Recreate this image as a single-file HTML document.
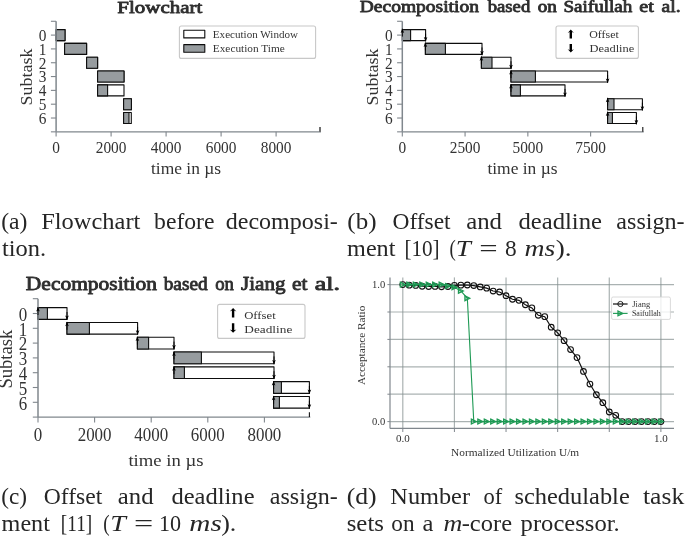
<!DOCTYPE html>
<html><head><meta charset="utf-8"><style>
html,body{margin:0;padding:0;background:#fff;width:685px;height:537px;overflow:hidden}
svg{display:block;font-family:"Liberation Serif",serif;will-change:transform}
</style></head><body>
<svg width="685" height="537" viewBox="0 0 685 537">
<rect x="56.20" y="29.60" width="8.80" height="11.00" fill="#fff" stroke="#0d0d0d" stroke-width="1.1" stroke-linejoin="round"/>
<rect x="56.20" y="29.60" width="8.80" height="11.00" fill="#979c9f" stroke="#0d0d0d" stroke-width="1.1" stroke-linejoin="round"/>
<rect x="64.60" y="43.42" width="22.00" height="11.00" fill="#fff" stroke="#0d0d0d" stroke-width="1.1" stroke-linejoin="round"/>
<rect x="64.60" y="43.42" width="22.00" height="11.00" fill="#979c9f" stroke="#0d0d0d" stroke-width="1.1" stroke-linejoin="round"/>
<rect x="86.60" y="57.24" width="11.00" height="11.00" fill="#fff" stroke="#0d0d0d" stroke-width="1.1" stroke-linejoin="round"/>
<rect x="86.60" y="57.24" width="11.00" height="11.00" fill="#979c9f" stroke="#0d0d0d" stroke-width="1.1" stroke-linejoin="round"/>
<rect x="97.60" y="71.06" width="26.40" height="11.00" fill="#fff" stroke="#0d0d0d" stroke-width="1.1" stroke-linejoin="round"/>
<rect x="97.60" y="71.06" width="26.40" height="11.00" fill="#979c9f" stroke="#0d0d0d" stroke-width="1.1" stroke-linejoin="round"/>
<rect x="97.60" y="84.88" width="26.40" height="11.00" fill="#fff" stroke="#0d0d0d" stroke-width="1.1" stroke-linejoin="round"/>
<rect x="97.60" y="84.88" width="10.00" height="11.00" fill="#979c9f" stroke="#0d0d0d" stroke-width="1.1" stroke-linejoin="round"/>
<rect x="123.60" y="98.70" width="7.80" height="11.00" fill="#fff" stroke="#0d0d0d" stroke-width="1.1" stroke-linejoin="round"/>
<rect x="123.60" y="98.70" width="7.80" height="11.00" fill="#979c9f" stroke="#0d0d0d" stroke-width="1.1" stroke-linejoin="round"/>
<rect x="123.60" y="112.52" width="7.70" height="11.00" fill="#fff" stroke="#0d0d0d" stroke-width="1.1" stroke-linejoin="round"/>
<rect x="123.60" y="112.52" width="5.40" height="11.00" fill="#979c9f" stroke="#0d0d0d" stroke-width="1.1" stroke-linejoin="round"/>
<line x1="56.10" y1="21.28" x2="56.10" y2="131.84" stroke="#80878d" stroke-width="1.5"/>
<line x1="50.90" y1="21.28" x2="56.10" y2="21.28" stroke="#80878d" stroke-width="1.1"/>
<line x1="50.90" y1="35.10" x2="56.10" y2="35.10" stroke="#80878d" stroke-width="1.1"/>
<line x1="50.90" y1="48.92" x2="56.10" y2="48.92" stroke="#80878d" stroke-width="1.1"/>
<line x1="50.90" y1="62.74" x2="56.10" y2="62.74" stroke="#80878d" stroke-width="1.1"/>
<line x1="50.90" y1="76.56" x2="56.10" y2="76.56" stroke="#80878d" stroke-width="1.1"/>
<line x1="50.90" y1="90.38" x2="56.10" y2="90.38" stroke="#80878d" stroke-width="1.1"/>
<line x1="50.90" y1="104.20" x2="56.10" y2="104.20" stroke="#80878d" stroke-width="1.1"/>
<line x1="50.90" y1="118.02" x2="56.10" y2="118.02" stroke="#80878d" stroke-width="1.1"/>
<line x1="50.90" y1="131.84" x2="56.10" y2="131.84" stroke="#80878d" stroke-width="1.1"/>
<line x1="56.10" y1="131.84" x2="320.90" y2="131.84" stroke="#80878d" stroke-width="1.3"/>
<line x1="320.00" y1="127.04" x2="320.00" y2="131.64" stroke="#555" stroke-width="1.7"/>
<line x1="56.10" y1="131.84" x2="56.10" y2="136.44" stroke="#80878d" stroke-width="1.1"/>
<line x1="111.10" y1="131.84" x2="111.10" y2="136.44" stroke="#80878d" stroke-width="1.1"/>
<line x1="166.10" y1="131.84" x2="166.10" y2="136.44" stroke="#80878d" stroke-width="1.1"/>
<line x1="221.10" y1="131.84" x2="221.10" y2="136.44" stroke="#80878d" stroke-width="1.1"/>
<line x1="276.10" y1="131.84" x2="276.10" y2="136.44" stroke="#80878d" stroke-width="1.1"/>
<rect x="179.40" y="26.00" width="136.20" height="32.40" fill="#fff" stroke="#c8c8c8" stroke-width="1.1" rx="2"/>
<rect x="183.80" y="30.20" width="21.00" height="7.70" fill="#fff" stroke="#0d0d0d" stroke-width="1.1" stroke-linejoin="round"/>
<rect x="183.80" y="44.60" width="21.00" height="7.70" fill="#979c9f" stroke="#0d0d0d" stroke-width="1.1" stroke-linejoin="round"/>
<rect x="402.40" y="29.60" width="23.20" height="11.00" fill="#fff" stroke="#0d0d0d" stroke-width="1.1" stroke-linejoin="round"/>
<rect x="402.40" y="29.60" width="8.20" height="11.00" fill="#979c9f" stroke="#0d0d0d" stroke-width="1.1" stroke-linejoin="round"/>
<rect x="425.40" y="43.42" width="56.60" height="11.00" fill="#fff" stroke="#0d0d0d" stroke-width="1.1" stroke-linejoin="round"/>
<rect x="425.40" y="43.42" width="20.00" height="11.00" fill="#979c9f" stroke="#0d0d0d" stroke-width="1.1" stroke-linejoin="round"/>
<rect x="481.40" y="57.24" width="29.60" height="11.00" fill="#fff" stroke="#0d0d0d" stroke-width="1.1" stroke-linejoin="round"/>
<rect x="481.40" y="57.24" width="10.60" height="11.00" fill="#979c9f" stroke="#0d0d0d" stroke-width="1.1" stroke-linejoin="round"/>
<rect x="511.00" y="71.06" width="96.60" height="11.00" fill="#fff" stroke="#0d0d0d" stroke-width="1.1" stroke-linejoin="round"/>
<rect x="511.00" y="71.06" width="24.40" height="11.00" fill="#979c9f" stroke="#0d0d0d" stroke-width="1.1" stroke-linejoin="round"/>
<rect x="511.00" y="84.88" width="54.00" height="11.00" fill="#fff" stroke="#0d0d0d" stroke-width="1.1" stroke-linejoin="round"/>
<rect x="511.00" y="84.88" width="9.40" height="11.00" fill="#979c9f" stroke="#0d0d0d" stroke-width="1.1" stroke-linejoin="round"/>
<rect x="607.60" y="98.70" width="34.80" height="11.00" fill="#fff" stroke="#0d0d0d" stroke-width="1.1" stroke-linejoin="round"/>
<rect x="607.60" y="98.70" width="6.40" height="11.00" fill="#979c9f" stroke="#0d0d0d" stroke-width="1.1" stroke-linejoin="round"/>
<rect x="607.60" y="112.52" width="28.80" height="11.00" fill="#fff" stroke="#0d0d0d" stroke-width="1.1" stroke-linejoin="round"/>
<rect x="607.60" y="112.52" width="4.80" height="11.00" fill="#979c9f" stroke="#0d0d0d" stroke-width="1.1" stroke-linejoin="round"/>
<line x1="402.30" y1="21.28" x2="402.30" y2="131.84" stroke="#80878d" stroke-width="1.5"/>
<line x1="397.10" y1="21.28" x2="402.30" y2="21.28" stroke="#80878d" stroke-width="1.1"/>
<line x1="397.10" y1="35.10" x2="402.30" y2="35.10" stroke="#80878d" stroke-width="1.1"/>
<line x1="397.10" y1="48.92" x2="402.30" y2="48.92" stroke="#80878d" stroke-width="1.1"/>
<line x1="397.10" y1="62.74" x2="402.30" y2="62.74" stroke="#80878d" stroke-width="1.1"/>
<line x1="397.10" y1="76.56" x2="402.30" y2="76.56" stroke="#80878d" stroke-width="1.1"/>
<line x1="397.10" y1="90.38" x2="402.30" y2="90.38" stroke="#80878d" stroke-width="1.1"/>
<line x1="397.10" y1="104.20" x2="402.30" y2="104.20" stroke="#80878d" stroke-width="1.1"/>
<line x1="397.10" y1="118.02" x2="402.30" y2="118.02" stroke="#80878d" stroke-width="1.1"/>
<line x1="397.10" y1="131.84" x2="402.30" y2="131.84" stroke="#80878d" stroke-width="1.1"/>
<line x1="402.30" y1="131.84" x2="643.70" y2="131.84" stroke="#80878d" stroke-width="1.3"/>
<line x1="642.80" y1="127.04" x2="642.80" y2="131.64" stroke="#111" stroke-width="1.1"/>
<line x1="402.30" y1="131.84" x2="402.30" y2="136.44" stroke="#80878d" stroke-width="1.1"/>
<line x1="465.07" y1="131.84" x2="465.07" y2="136.44" stroke="#80878d" stroke-width="1.1"/>
<line x1="527.85" y1="131.84" x2="527.85" y2="136.44" stroke="#80878d" stroke-width="1.1"/>
<line x1="590.62" y1="131.84" x2="590.62" y2="136.44" stroke="#80878d" stroke-width="1.1"/>
<path d="M402.40,36.60L402.40,28.70" stroke="#000" stroke-width="0.9" fill="none"/>
<path d="M402.40,28.70L404.20,33.10L402.40,32.10L400.60,33.10Z" fill="#000"/>
<path d="M425.60,33.60L425.60,41.50" stroke="#000" stroke-width="0.9" fill="none"/>
<path d="M425.60,41.50L427.40,37.10L425.60,38.10L423.80,37.10Z" fill="#000"/>
<path d="M425.40,50.42L425.40,42.52" stroke="#000" stroke-width="0.9" fill="none"/>
<path d="M425.40,42.52L427.20,46.92L425.40,45.92L423.60,46.92Z" fill="#000"/>
<path d="M482.00,47.42L482.00,55.32" stroke="#000" stroke-width="0.9" fill="none"/>
<path d="M482.00,55.32L483.80,50.92L482.00,51.92L480.20,50.92Z" fill="#000"/>
<path d="M481.40,64.24L481.40,56.34" stroke="#000" stroke-width="0.9" fill="none"/>
<path d="M481.40,56.34L483.20,60.74L481.40,59.74L479.60,60.74Z" fill="#000"/>
<path d="M511.00,61.24L511.00,69.14" stroke="#000" stroke-width="0.9" fill="none"/>
<path d="M511.00,69.14L512.80,64.74L511.00,65.74L509.20,64.74Z" fill="#000"/>
<path d="M511.00,78.06L511.00,70.16" stroke="#000" stroke-width="0.9" fill="none"/>
<path d="M511.00,70.16L512.80,74.56L511.00,73.56L509.20,74.56Z" fill="#000"/>
<path d="M607.60,75.06L607.60,82.96" stroke="#000" stroke-width="0.9" fill="none"/>
<path d="M607.60,82.96L609.40,78.56L607.60,79.56L605.80,78.56Z" fill="#000"/>
<path d="M511.00,91.88L511.00,83.98" stroke="#000" stroke-width="0.9" fill="none"/>
<path d="M511.00,83.98L512.80,88.38L511.00,87.38L509.20,88.38Z" fill="#000"/>
<path d="M565.00,88.88L565.00,96.78" stroke="#000" stroke-width="0.9" fill="none"/>
<path d="M565.00,96.78L566.80,92.38L565.00,93.38L563.20,92.38Z" fill="#000"/>
<path d="M607.60,105.70L607.60,97.80" stroke="#000" stroke-width="0.9" fill="none"/>
<path d="M607.60,97.80L609.40,102.20L607.60,101.20L605.80,102.20Z" fill="#000"/>
<path d="M642.40,102.70L642.40,110.60" stroke="#000" stroke-width="0.9" fill="none"/>
<path d="M642.40,110.60L644.20,106.20L642.40,107.20L640.60,106.20Z" fill="#000"/>
<path d="M607.60,119.52L607.60,111.62" stroke="#000" stroke-width="0.9" fill="none"/>
<path d="M607.60,111.62L609.40,116.02L607.60,115.02L605.80,116.02Z" fill="#000"/>
<path d="M636.40,116.52L636.40,124.42" stroke="#000" stroke-width="0.9" fill="none"/>
<path d="M636.40,124.42L638.20,120.02L636.40,121.02L634.60,120.02Z" fill="#000"/>
<rect x="556.00" y="26.00" width="82.40" height="32.40" fill="#fff" stroke="#c8c8c8" stroke-width="1.1" rx="2"/>
<path d="M570.80,29.60L573.90,33.00L572.00,32.10L572.00,38.40L569.60,38.40L569.60,32.10L567.70,33.00Z" fill="#000"/>
<path d="M570.80,52.60L573.90,49.20L572.00,50.10L572.00,44.10L569.60,44.10L569.60,50.10L567.70,49.20Z" fill="#000"/>
<rect x="38.00" y="307.65" width="29.00" height="11.70" fill="#fff" stroke="#0d0d0d" stroke-width="1.1" stroke-linejoin="round"/>
<rect x="38.00" y="307.65" width="9.40" height="11.70" fill="#979c9f" stroke="#0d0d0d" stroke-width="1.1" stroke-linejoin="round"/>
<rect x="67.00" y="322.45" width="70.60" height="11.70" fill="#fff" stroke="#0d0d0d" stroke-width="1.1" stroke-linejoin="round"/>
<rect x="67.00" y="322.45" width="22.40" height="11.70" fill="#979c9f" stroke="#0d0d0d" stroke-width="1.1" stroke-linejoin="round"/>
<rect x="137.40" y="337.25" width="36.60" height="11.70" fill="#fff" stroke="#0d0d0d" stroke-width="1.1" stroke-linejoin="round"/>
<rect x="137.40" y="337.25" width="11.20" height="11.70" fill="#979c9f" stroke="#0d0d0d" stroke-width="1.1" stroke-linejoin="round"/>
<rect x="174.00" y="352.05" width="100.00" height="11.70" fill="#fff" stroke="#0d0d0d" stroke-width="1.1" stroke-linejoin="round"/>
<rect x="174.00" y="352.05" width="27.40" height="11.70" fill="#979c9f" stroke="#0d0d0d" stroke-width="1.1" stroke-linejoin="round"/>
<rect x="174.00" y="366.85" width="100.00" height="11.70" fill="#fff" stroke="#0d0d0d" stroke-width="1.1" stroke-linejoin="round"/>
<rect x="174.00" y="366.85" width="10.40" height="11.70" fill="#979c9f" stroke="#0d0d0d" stroke-width="1.1" stroke-linejoin="round"/>
<rect x="273.60" y="381.65" width="35.80" height="11.70" fill="#fff" stroke="#0d0d0d" stroke-width="1.1" stroke-linejoin="round"/>
<rect x="273.60" y="381.65" width="7.80" height="11.70" fill="#979c9f" stroke="#0d0d0d" stroke-width="1.1" stroke-linejoin="round"/>
<rect x="273.60" y="396.45" width="35.80" height="11.70" fill="#fff" stroke="#0d0d0d" stroke-width="1.1" stroke-linejoin="round"/>
<rect x="273.60" y="396.45" width="5.80" height="11.70" fill="#979c9f" stroke="#0d0d0d" stroke-width="1.1" stroke-linejoin="round"/>
<line x1="38.00" y1="298.70" x2="38.00" y2="417.10" stroke="#80878d" stroke-width="1.5"/>
<line x1="32.80" y1="298.70" x2="38.00" y2="298.70" stroke="#80878d" stroke-width="1.1"/>
<line x1="32.80" y1="313.50" x2="38.00" y2="313.50" stroke="#80878d" stroke-width="1.1"/>
<line x1="32.80" y1="328.30" x2="38.00" y2="328.30" stroke="#80878d" stroke-width="1.1"/>
<line x1="32.80" y1="343.10" x2="38.00" y2="343.10" stroke="#80878d" stroke-width="1.1"/>
<line x1="32.80" y1="357.90" x2="38.00" y2="357.90" stroke="#80878d" stroke-width="1.1"/>
<line x1="32.80" y1="372.70" x2="38.00" y2="372.70" stroke="#80878d" stroke-width="1.1"/>
<line x1="32.80" y1="387.50" x2="38.00" y2="387.50" stroke="#80878d" stroke-width="1.1"/>
<line x1="32.80" y1="402.30" x2="38.00" y2="402.30" stroke="#80878d" stroke-width="1.1"/>
<line x1="32.80" y1="417.10" x2="38.00" y2="417.10" stroke="#80878d" stroke-width="1.1"/>
<line x1="38.00" y1="417.10" x2="310.30" y2="417.10" stroke="#80878d" stroke-width="1.3"/>
<line x1="309.40" y1="412.30" x2="309.40" y2="416.90" stroke="#111" stroke-width="1.1"/>
<line x1="38.00" y1="417.10" x2="38.00" y2="422.50" stroke="#80878d" stroke-width="1.1"/>
<line x1="94.60" y1="417.10" x2="94.60" y2="422.50" stroke="#80878d" stroke-width="1.1"/>
<line x1="151.20" y1="417.10" x2="151.20" y2="422.50" stroke="#80878d" stroke-width="1.1"/>
<line x1="207.80" y1="417.10" x2="207.80" y2="422.50" stroke="#80878d" stroke-width="1.1"/>
<line x1="264.40" y1="417.10" x2="264.40" y2="422.50" stroke="#80878d" stroke-width="1.1"/>
<path d="M38.00,315.00L38.00,307.10" stroke="#000" stroke-width="0.9" fill="none"/>
<path d="M38.00,307.10L39.80,311.50L38.00,310.50L36.20,311.50Z" fill="#000"/>
<path d="M67.00,312.00L67.00,319.90" stroke="#000" stroke-width="0.9" fill="none"/>
<path d="M67.00,319.90L68.80,315.50L67.00,316.50L65.20,315.50Z" fill="#000"/>
<path d="M67.00,329.80L67.00,321.90" stroke="#000" stroke-width="0.9" fill="none"/>
<path d="M67.00,321.90L68.80,326.30L67.00,325.30L65.20,326.30Z" fill="#000"/>
<path d="M137.60,326.80L137.60,334.70" stroke="#000" stroke-width="0.9" fill="none"/>
<path d="M137.60,334.70L139.40,330.30L137.60,331.30L135.80,330.30Z" fill="#000"/>
<path d="M137.40,344.60L137.40,336.70" stroke="#000" stroke-width="0.9" fill="none"/>
<path d="M137.40,336.70L139.20,341.10L137.40,340.10L135.60,341.10Z" fill="#000"/>
<path d="M174.00,341.60L174.00,349.50" stroke="#000" stroke-width="0.9" fill="none"/>
<path d="M174.00,349.50L175.80,345.10L174.00,346.10L172.20,345.10Z" fill="#000"/>
<path d="M174.00,359.40L174.00,351.50" stroke="#000" stroke-width="0.9" fill="none"/>
<path d="M174.00,351.50L175.80,355.90L174.00,354.90L172.20,355.90Z" fill="#000"/>
<path d="M274.00,356.40L274.00,364.30" stroke="#000" stroke-width="0.9" fill="none"/>
<path d="M274.00,364.30L275.80,359.90L274.00,360.90L272.20,359.90Z" fill="#000"/>
<path d="M174.00,374.20L174.00,366.30" stroke="#000" stroke-width="0.9" fill="none"/>
<path d="M174.00,366.30L175.80,370.70L174.00,369.70L172.20,370.70Z" fill="#000"/>
<path d="M274.00,371.20L274.00,379.10" stroke="#000" stroke-width="0.9" fill="none"/>
<path d="M274.00,379.10L275.80,374.70L274.00,375.70L272.20,374.70Z" fill="#000"/>
<path d="M273.60,389.00L273.60,381.10" stroke="#000" stroke-width="0.9" fill="none"/>
<path d="M273.60,381.10L275.40,385.50L273.60,384.50L271.80,385.50Z" fill="#000"/>
<path d="M309.40,386.00L309.40,393.90" stroke="#000" stroke-width="0.9" fill="none"/>
<path d="M309.40,393.90L311.20,389.50L309.40,390.50L307.60,389.50Z" fill="#000"/>
<path d="M273.60,403.80L273.60,395.90" stroke="#000" stroke-width="0.9" fill="none"/>
<path d="M273.60,395.90L275.40,400.30L273.60,399.30L271.80,400.30Z" fill="#000"/>
<path d="M309.40,400.80L309.40,408.70" stroke="#000" stroke-width="0.9" fill="none"/>
<path d="M309.40,408.70L311.20,404.30L309.40,405.30L307.60,404.30Z" fill="#000"/>
<rect x="217.60" y="304.40" width="87.40" height="34.00" fill="#fff" stroke="#c8c8c8" stroke-width="1.1" rx="2"/>
<path d="M233.10,308.00L236.40,311.40L234.30,310.50L234.30,317.40L231.90,317.40L231.90,310.50L229.80,311.40Z" fill="#000"/>
<path d="M233.10,332.80L236.40,329.40L234.30,330.30L234.30,323.30L231.90,323.30L231.90,330.30L229.80,329.40Z" fill="#000"/>
<line x1="402.80" y1="277.40" x2="402.80" y2="428.40" stroke="rgba(130,141,141,0.68)" stroke-width="1.2"/>
<line x1="402.80" y1="428.40" x2="402.80" y2="432.00" stroke="#80878d" stroke-width="1.0"/>
<line x1="454.42" y1="277.40" x2="454.42" y2="428.40" stroke="rgba(130,141,141,0.68)" stroke-width="1.2"/>
<line x1="454.42" y1="428.40" x2="454.42" y2="432.00" stroke="#80878d" stroke-width="1.0"/>
<line x1="506.04" y1="277.40" x2="506.04" y2="428.40" stroke="rgba(130,141,141,0.68)" stroke-width="1.2"/>
<line x1="506.04" y1="428.40" x2="506.04" y2="432.00" stroke="#80878d" stroke-width="1.0"/>
<line x1="557.66" y1="277.40" x2="557.66" y2="428.40" stroke="rgba(130,141,141,0.68)" stroke-width="1.2"/>
<line x1="557.66" y1="428.40" x2="557.66" y2="432.00" stroke="#80878d" stroke-width="1.0"/>
<line x1="609.28" y1="277.40" x2="609.28" y2="428.40" stroke="rgba(130,141,141,0.68)" stroke-width="1.2"/>
<line x1="609.28" y1="428.40" x2="609.28" y2="432.00" stroke="#80878d" stroke-width="1.0"/>
<line x1="660.90" y1="277.40" x2="660.90" y2="428.40" stroke="rgba(130,141,141,0.68)" stroke-width="1.2"/>
<line x1="660.90" y1="428.40" x2="660.90" y2="432.00" stroke="#80878d" stroke-width="1.0"/>
<line x1="390.00" y1="421.60" x2="674.00" y2="421.60" stroke="rgba(130,141,141,0.68)" stroke-width="1.2"/>
<line x1="387.40" y1="421.60" x2="390.00" y2="421.60" stroke="#80878d" stroke-width="1.0"/>
<line x1="390.00" y1="394.20" x2="674.00" y2="394.20" stroke="rgba(130,141,141,0.68)" stroke-width="1.2"/>
<line x1="387.40" y1="394.20" x2="390.00" y2="394.20" stroke="#80878d" stroke-width="1.0"/>
<line x1="390.00" y1="366.80" x2="674.00" y2="366.80" stroke="rgba(130,141,141,0.68)" stroke-width="1.2"/>
<line x1="387.40" y1="366.80" x2="390.00" y2="366.80" stroke="#80878d" stroke-width="1.0"/>
<line x1="390.00" y1="339.40" x2="674.00" y2="339.40" stroke="rgba(130,141,141,0.68)" stroke-width="1.2"/>
<line x1="387.40" y1="339.40" x2="390.00" y2="339.40" stroke="#80878d" stroke-width="1.0"/>
<line x1="390.00" y1="312.00" x2="674.00" y2="312.00" stroke="rgba(130,141,141,0.68)" stroke-width="1.2"/>
<line x1="387.40" y1="312.00" x2="390.00" y2="312.00" stroke="#80878d" stroke-width="1.0"/>
<line x1="390.00" y1="284.60" x2="674.00" y2="284.60" stroke="rgba(130,141,141,0.68)" stroke-width="1.2"/>
<line x1="387.40" y1="284.60" x2="390.00" y2="284.60" stroke="#80878d" stroke-width="1.0"/>
<line x1="390.00" y1="277.40" x2="390.00" y2="428.40" stroke="#80878d" stroke-width="1.2"/>
<line x1="390.00" y1="428.40" x2="674.00" y2="428.40" stroke="#80878d" stroke-width="1.2"/>
<polyline points="402.80,284.60 409.25,285.15 415.71,285.42 422.16,286.24 428.61,286.52 435.06,286.38 441.52,286.79 447.97,286.52 454.42,285.42 460.87,285.15 467.33,285.01 473.78,285.56 480.23,286.93 486.68,288.16 493.14,291.04 499.59,292.00 506.04,295.70 512.49,299.26 518.95,300.36 525.40,304.74 531.85,307.89 538.30,315.29 544.75,316.66 551.21,327.21 557.66,332.82 564.11,340.63 570.57,349.54 577.02,357.62 583.47,371.46 589.92,384.06 596.38,394.75 602.83,402.69 609.28,412.01 615.73,415.30 622.19,421.60 628.64,421.60 635.09,421.60 641.54,421.60 648.00,421.60 654.45,421.60 660.90,421.60" fill="none" stroke="#111" stroke-width="1.2"/>
<circle cx="402.80" cy="284.60" r="2.85" fill="none" stroke="#111" stroke-width="1.1"/>
<circle cx="409.25" cy="285.15" r="2.85" fill="none" stroke="#111" stroke-width="1.1"/>
<circle cx="415.71" cy="285.42" r="2.85" fill="none" stroke="#111" stroke-width="1.1"/>
<circle cx="422.16" cy="286.24" r="2.85" fill="none" stroke="#111" stroke-width="1.1"/>
<circle cx="428.61" cy="286.52" r="2.85" fill="none" stroke="#111" stroke-width="1.1"/>
<circle cx="435.06" cy="286.38" r="2.85" fill="none" stroke="#111" stroke-width="1.1"/>
<circle cx="441.52" cy="286.79" r="2.85" fill="none" stroke="#111" stroke-width="1.1"/>
<circle cx="447.97" cy="286.52" r="2.85" fill="none" stroke="#111" stroke-width="1.1"/>
<circle cx="454.42" cy="285.42" r="2.85" fill="none" stroke="#111" stroke-width="1.1"/>
<circle cx="460.87" cy="285.15" r="2.85" fill="none" stroke="#111" stroke-width="1.1"/>
<circle cx="467.33" cy="285.01" r="2.85" fill="none" stroke="#111" stroke-width="1.1"/>
<circle cx="473.78" cy="285.56" r="2.85" fill="none" stroke="#111" stroke-width="1.1"/>
<circle cx="480.23" cy="286.93" r="2.85" fill="none" stroke="#111" stroke-width="1.1"/>
<circle cx="486.68" cy="288.16" r="2.85" fill="none" stroke="#111" stroke-width="1.1"/>
<circle cx="493.14" cy="291.04" r="2.85" fill="none" stroke="#111" stroke-width="1.1"/>
<circle cx="499.59" cy="292.00" r="2.85" fill="none" stroke="#111" stroke-width="1.1"/>
<circle cx="506.04" cy="295.70" r="2.85" fill="none" stroke="#111" stroke-width="1.1"/>
<circle cx="512.49" cy="299.26" r="2.85" fill="none" stroke="#111" stroke-width="1.1"/>
<circle cx="518.95" cy="300.36" r="2.85" fill="none" stroke="#111" stroke-width="1.1"/>
<circle cx="525.40" cy="304.74" r="2.85" fill="none" stroke="#111" stroke-width="1.1"/>
<circle cx="531.85" cy="307.89" r="2.85" fill="none" stroke="#111" stroke-width="1.1"/>
<circle cx="538.30" cy="315.29" r="2.85" fill="none" stroke="#111" stroke-width="1.1"/>
<circle cx="544.75" cy="316.66" r="2.85" fill="none" stroke="#111" stroke-width="1.1"/>
<circle cx="551.21" cy="327.21" r="2.85" fill="none" stroke="#111" stroke-width="1.1"/>
<circle cx="557.66" cy="332.82" r="2.85" fill="none" stroke="#111" stroke-width="1.1"/>
<circle cx="564.11" cy="340.63" r="2.85" fill="none" stroke="#111" stroke-width="1.1"/>
<circle cx="570.57" cy="349.54" r="2.85" fill="none" stroke="#111" stroke-width="1.1"/>
<circle cx="577.02" cy="357.62" r="2.85" fill="none" stroke="#111" stroke-width="1.1"/>
<circle cx="583.47" cy="371.46" r="2.85" fill="none" stroke="#111" stroke-width="1.1"/>
<circle cx="589.92" cy="384.06" r="2.85" fill="none" stroke="#111" stroke-width="1.1"/>
<circle cx="596.38" cy="394.75" r="2.85" fill="none" stroke="#111" stroke-width="1.1"/>
<circle cx="602.83" cy="402.69" r="2.85" fill="none" stroke="#111" stroke-width="1.1"/>
<circle cx="609.28" cy="412.01" r="2.85" fill="none" stroke="#111" stroke-width="1.1"/>
<circle cx="615.73" cy="415.30" r="2.85" fill="none" stroke="#111" stroke-width="1.1"/>
<circle cx="622.19" cy="421.60" r="2.85" fill="none" stroke="#111" stroke-width="1.1"/>
<circle cx="628.64" cy="421.60" r="2.85" fill="none" stroke="#111" stroke-width="1.1"/>
<circle cx="635.09" cy="421.60" r="2.85" fill="none" stroke="#111" stroke-width="1.1"/>
<circle cx="641.54" cy="421.60" r="2.85" fill="none" stroke="#111" stroke-width="1.1"/>
<circle cx="648.00" cy="421.60" r="2.85" fill="none" stroke="#111" stroke-width="1.1"/>
<circle cx="654.45" cy="421.60" r="2.85" fill="none" stroke="#111" stroke-width="1.1"/>
<circle cx="660.90" cy="421.60" r="2.85" fill="none" stroke="#111" stroke-width="1.1"/>
<polyline points="402.80,284.60 409.25,284.60 415.71,284.60 422.16,284.60 428.61,284.60 435.06,284.60 441.52,284.60 447.97,285.97 454.42,287.34 460.87,290.90 467.33,298.30 473.78,421.60 480.23,421.60 486.68,421.60 493.14,421.60 499.59,421.60 506.04,421.60 512.49,421.60 518.95,421.60 525.40,421.60 531.85,421.60 538.30,421.60 544.75,421.60 551.21,421.60 557.66,421.60 564.11,421.60 570.57,421.60 577.02,421.60 583.47,421.60 589.92,421.60 596.38,421.60 602.83,421.60 609.28,421.60 615.73,421.60 622.19,421.60 628.64,421.60 635.09,421.60 641.54,421.60 648.00,421.60 654.45,421.60 660.90,421.60" fill="none" stroke="#1f9a55" stroke-width="1.1"/>
<path d="M400.40,282.20L405.20,284.60L400.40,287.00Z" fill="#1f9a55" fill-opacity="0.3" stroke="#1f9a55" stroke-width="1.3"/>
<path d="M406.85,282.20L411.65,284.60L406.85,287.00Z" fill="#1f9a55" fill-opacity="0.3" stroke="#1f9a55" stroke-width="1.3"/>
<path d="M413.31,282.20L418.11,284.60L413.31,287.00Z" fill="#1f9a55" fill-opacity="0.3" stroke="#1f9a55" stroke-width="1.3"/>
<path d="M419.76,282.20L424.56,284.60L419.76,287.00Z" fill="#1f9a55" fill-opacity="0.3" stroke="#1f9a55" stroke-width="1.3"/>
<path d="M426.21,282.20L431.01,284.60L426.21,287.00Z" fill="#1f9a55" fill-opacity="0.3" stroke="#1f9a55" stroke-width="1.3"/>
<path d="M432.66,282.20L437.46,284.60L432.66,287.00Z" fill="#1f9a55" fill-opacity="0.3" stroke="#1f9a55" stroke-width="1.3"/>
<path d="M439.12,282.20L443.92,284.60L439.12,287.00Z" fill="#1f9a55" fill-opacity="0.3" stroke="#1f9a55" stroke-width="1.3"/>
<path d="M445.57,283.57L450.37,285.97L445.57,288.37Z" fill="#1f9a55" fill-opacity="0.3" stroke="#1f9a55" stroke-width="1.3"/>
<path d="M452.02,284.94L456.82,287.34L452.02,289.74Z" fill="#1f9a55" fill-opacity="0.3" stroke="#1f9a55" stroke-width="1.3"/>
<path d="M458.47,288.50L463.27,290.90L458.47,293.30Z" fill="#1f9a55" fill-opacity="0.3" stroke="#1f9a55" stroke-width="1.3"/>
<path d="M464.93,295.90L469.73,298.30L464.93,300.70Z" fill="#1f9a55" fill-opacity="0.3" stroke="#1f9a55" stroke-width="1.3"/>
<path d="M471.38,419.20L476.18,421.60L471.38,424.00Z" fill="#1f9a55" fill-opacity="0.3" stroke="#1f9a55" stroke-width="1.3"/>
<path d="M477.83,419.20L482.63,421.60L477.83,424.00Z" fill="#1f9a55" fill-opacity="0.3" stroke="#1f9a55" stroke-width="1.3"/>
<path d="M484.28,419.20L489.08,421.60L484.28,424.00Z" fill="#1f9a55" fill-opacity="0.3" stroke="#1f9a55" stroke-width="1.3"/>
<path d="M490.74,419.20L495.54,421.60L490.74,424.00Z" fill="#1f9a55" fill-opacity="0.3" stroke="#1f9a55" stroke-width="1.3"/>
<path d="M497.19,419.20L501.99,421.60L497.19,424.00Z" fill="#1f9a55" fill-opacity="0.3" stroke="#1f9a55" stroke-width="1.3"/>
<path d="M503.64,419.20L508.44,421.60L503.64,424.00Z" fill="#1f9a55" fill-opacity="0.3" stroke="#1f9a55" stroke-width="1.3"/>
<path d="M510.09,419.20L514.89,421.60L510.09,424.00Z" fill="#1f9a55" fill-opacity="0.3" stroke="#1f9a55" stroke-width="1.3"/>
<path d="M516.55,419.20L521.35,421.60L516.55,424.00Z" fill="#1f9a55" fill-opacity="0.3" stroke="#1f9a55" stroke-width="1.3"/>
<path d="M523.00,419.20L527.80,421.60L523.00,424.00Z" fill="#1f9a55" fill-opacity="0.3" stroke="#1f9a55" stroke-width="1.3"/>
<path d="M529.45,419.20L534.25,421.60L529.45,424.00Z" fill="#1f9a55" fill-opacity="0.3" stroke="#1f9a55" stroke-width="1.3"/>
<path d="M535.90,419.20L540.70,421.60L535.90,424.00Z" fill="#1f9a55" fill-opacity="0.3" stroke="#1f9a55" stroke-width="1.3"/>
<path d="M542.36,419.20L547.15,421.60L542.36,424.00Z" fill="#1f9a55" fill-opacity="0.3" stroke="#1f9a55" stroke-width="1.3"/>
<path d="M548.81,419.20L553.61,421.60L548.81,424.00Z" fill="#1f9a55" fill-opacity="0.3" stroke="#1f9a55" stroke-width="1.3"/>
<path d="M555.26,419.20L560.06,421.60L555.26,424.00Z" fill="#1f9a55" fill-opacity="0.3" stroke="#1f9a55" stroke-width="1.3"/>
<path d="M561.71,419.20L566.51,421.60L561.71,424.00Z" fill="#1f9a55" fill-opacity="0.3" stroke="#1f9a55" stroke-width="1.3"/>
<path d="M568.17,419.20L572.97,421.60L568.17,424.00Z" fill="#1f9a55" fill-opacity="0.3" stroke="#1f9a55" stroke-width="1.3"/>
<path d="M574.62,419.20L579.42,421.60L574.62,424.00Z" fill="#1f9a55" fill-opacity="0.3" stroke="#1f9a55" stroke-width="1.3"/>
<path d="M581.07,419.20L585.87,421.60L581.07,424.00Z" fill="#1f9a55" fill-opacity="0.3" stroke="#1f9a55" stroke-width="1.3"/>
<path d="M587.52,419.20L592.32,421.60L587.52,424.00Z" fill="#1f9a55" fill-opacity="0.3" stroke="#1f9a55" stroke-width="1.3"/>
<path d="M593.98,419.20L598.77,421.60L593.98,424.00Z" fill="#1f9a55" fill-opacity="0.3" stroke="#1f9a55" stroke-width="1.3"/>
<path d="M600.43,419.20L605.23,421.60L600.43,424.00Z" fill="#1f9a55" fill-opacity="0.3" stroke="#1f9a55" stroke-width="1.3"/>
<path d="M606.88,419.20L611.68,421.60L606.88,424.00Z" fill="#1f9a55" fill-opacity="0.3" stroke="#1f9a55" stroke-width="1.3"/>
<path d="M613.33,419.20L618.13,421.60L613.33,424.00Z" fill="#1f9a55" fill-opacity="0.3" stroke="#1f9a55" stroke-width="1.3"/>
<path d="M619.79,419.20L624.59,421.60L619.79,424.00Z" fill="#1f9a55" fill-opacity="0.3" stroke="#1f9a55" stroke-width="1.3"/>
<path d="M626.24,419.20L631.04,421.60L626.24,424.00Z" fill="#1f9a55" fill-opacity="0.3" stroke="#1f9a55" stroke-width="1.3"/>
<path d="M632.69,419.20L637.49,421.60L632.69,424.00Z" fill="#1f9a55" fill-opacity="0.3" stroke="#1f9a55" stroke-width="1.3"/>
<path d="M639.14,419.20L643.94,421.60L639.14,424.00Z" fill="#1f9a55" fill-opacity="0.3" stroke="#1f9a55" stroke-width="1.3"/>
<path d="M645.60,419.20L650.40,421.60L645.60,424.00Z" fill="#1f9a55" fill-opacity="0.3" stroke="#1f9a55" stroke-width="1.3"/>
<path d="M652.05,419.20L656.85,421.60L652.05,424.00Z" fill="#1f9a55" fill-opacity="0.3" stroke="#1f9a55" stroke-width="1.3"/>
<path d="M658.50,419.20L663.30,421.60L658.50,424.00Z" fill="#1f9a55" fill-opacity="0.3" stroke="#1f9a55" stroke-width="1.3"/>
<rect x="611.6" y="297.0" width="58.8" height="22.4" rx="1.5" fill="#fff" fill-opacity="0.8" stroke="#d0d0d0" stroke-width="0.8"/>
<line x1="613.00" y1="304.00" x2="627.60" y2="304.00" stroke="#111" stroke-width="1.2"/>
<circle cx="620.4" cy="304.0" r="2.6" fill="none" stroke="#111" stroke-width="0.9"/>
<line x1="613.00" y1="313.40" x2="627.60" y2="313.40" stroke="#1f9a55" stroke-width="1.1"/>
<path d="M618.00,311.00L622.80,313.40L618.00,315.80Z" fill="#1f9a55" fill-opacity="0.3" stroke="#1f9a55" stroke-width="1.3"/>
<text x="151.00" y="173.80" font-size="16.5" fill="#333333" textLength="70.12" lengthAdjust="spacingAndGlyphs">time in µs</text>
<text transform="translate(32.10,104.30) rotate(-90)" x="-1.12" y="0" font-size="17.0" fill="#333333" textLength="56.82" lengthAdjust="spacingAndGlyphs">Subtask</text>
<text x="117.37" y="12.70" font-size="16.8" stroke="#2e2e2e" stroke-width="0.8" stroke-linejoin="round" fill="#2e2e2e" textLength="84.86" lengthAdjust="spacingAndGlyphs">Flowchart</text>
<text x="212.83" y="38.30" font-size="10.6" fill="#333333" textLength="85.21" lengthAdjust="spacingAndGlyphs">Execution Window</text>
<text x="212.82" y="52.30" font-size="10.6" fill="#333333" textLength="71.92" lengthAdjust="spacingAndGlyphs">Execution Time</text>
<text x="487.40" y="173.60" font-size="16.5" fill="#333333" textLength="70.12" lengthAdjust="spacingAndGlyphs">time in µs</text>
<text transform="translate(378.30,104.30) rotate(-90)" x="-1.12" y="0" font-size="17.0" fill="#333333" textLength="56.82" lengthAdjust="spacingAndGlyphs">Subtask</text>
<text x="359.80" y="11.70" font-size="16.6" stroke="#2e2e2e" stroke-width="0.8" stroke-linejoin="round" fill="#2e2e2e" textLength="119.10" lengthAdjust="spacingAndGlyphs">Decomposition</text>
<text x="487.70" y="11.70" font-size="16.6" stroke="#2e2e2e" stroke-width="0.8" stroke-linejoin="round" fill="#2e2e2e" textLength="42.60" lengthAdjust="spacingAndGlyphs">based</text>
<text x="537.70" y="11.70" font-size="16.6" stroke="#2e2e2e" stroke-width="0.8" stroke-linejoin="round" fill="#2e2e2e" textLength="19.10" lengthAdjust="spacingAndGlyphs">on</text>
<text x="563.41" y="11.70" font-size="16.6" stroke="#2e2e2e" stroke-width="0.8" stroke-linejoin="round" fill="#2e2e2e" textLength="68.99" lengthAdjust="spacingAndGlyphs">Saifullah</text>
<text x="639.37" y="11.70" font-size="16.6" stroke="#2e2e2e" stroke-width="0.8" stroke-linejoin="round" fill="#2e2e2e" textLength="14.56" lengthAdjust="spacingAndGlyphs">et</text>
<text x="661.59" y="11.70" font-size="16.6" stroke="#2e2e2e" stroke-width="0.8" stroke-linejoin="round" fill="#2e2e2e" textLength="19.04" lengthAdjust="spacingAndGlyphs">al.</text>
<text x="589.23" y="38.30" font-size="10.6" fill="#333333" textLength="29.53" lengthAdjust="spacingAndGlyphs">Offset</text>
<text x="589.41" y="52.30" font-size="10.6" fill="#333333" textLength="44.87" lengthAdjust="spacingAndGlyphs">Deadline</text>
<text x="128.40" y="466.20" font-size="17.7" fill="#333333" textLength="75.16" lengthAdjust="spacingAndGlyphs">time in µs</text>
<text transform="translate(12.10,387.40) rotate(-90)" x="-1.16" y="0" font-size="18.3" fill="#333333" textLength="58.86" lengthAdjust="spacingAndGlyphs">Subtask</text>
<text x="25.86" y="290.00" font-size="17.8" stroke="#2e2e2e" stroke-width="0.8" stroke-linejoin="round" fill="#2e2e2e" textLength="131.14" lengthAdjust="spacingAndGlyphs">Decomposition</text>
<text x="163.70" y="290.00" font-size="17.8" stroke="#2e2e2e" stroke-width="0.8" stroke-linejoin="round" fill="#2e2e2e" textLength="43.90" lengthAdjust="spacingAndGlyphs">based</text>
<text x="215.22" y="290.00" font-size="17.8" stroke="#2e2e2e" stroke-width="0.8" stroke-linejoin="round" fill="#2e2e2e" textLength="18.68" lengthAdjust="spacingAndGlyphs">on</text>
<text x="241.07" y="290.00" font-size="17.8" stroke="#2e2e2e" stroke-width="0.8" stroke-linejoin="round" fill="#2e2e2e" textLength="44.46" lengthAdjust="spacingAndGlyphs">Jiang</text>
<text x="292.03" y="290.00" font-size="17.8" stroke="#2e2e2e" stroke-width="0.8" stroke-linejoin="round" fill="#2e2e2e" textLength="15.50" lengthAdjust="spacingAndGlyphs">et</text>
<text x="314.89" y="290.00" font-size="17.8" stroke="#2e2e2e" stroke-width="0.8" stroke-linejoin="round" fill="#2e2e2e" textLength="25.12" lengthAdjust="spacingAndGlyphs">al.</text>
<text x="244.20" y="318.60" font-size="11.3" fill="#333333" textLength="31.55" lengthAdjust="spacingAndGlyphs">Offset</text>
<text x="244.39" y="332.60" font-size="11.3" fill="#333333" textLength="47.90" lengthAdjust="spacingAndGlyphs">Deadline</text>
<text x="385.20" y="287.80" font-size="10.6" fill="#333333" text-anchor="end">1.0</text>
<text x="385.20" y="425.20" font-size="10.6" fill="#333333" text-anchor="end">0.0</text>
<text x="402.80" y="442.20" font-size="11.0" fill="#333333" text-anchor="middle">0.0</text>
<text x="660.90" y="442.20" font-size="11.0" fill="#333333" text-anchor="middle">1.0</text>
<text transform="translate(365.30,385.00) rotate(-90)" x="0.00" y="0" font-size="11.0" fill="#333333" textLength="79.35" lengthAdjust="spacingAndGlyphs">Acceptance Ratio</text>
<text x="451.02" y="456.20" font-size="11.0" fill="#333333" textLength="128.12" lengthAdjust="spacingAndGlyphs">Normalized Utilization U/m</text>
<text x="632.27" y="306.80" font-size="7.4" fill="#333333" textLength="17.86" lengthAdjust="spacingAndGlyphs">Jiang</text>
<text x="631.90" y="316.20" font-size="7.4" fill="#333333" textLength="28.90" lengthAdjust="spacingAndGlyphs">Saifullah</text>
<text x="1.26" y="228.60" font-size="23.0" fill="#262626" textLength="26.19" lengthAdjust="spacingAndGlyphs">(a)</text>
<text x="41.22" y="228.60" font-size="23.0" fill="#262626" textLength="99.10" lengthAdjust="spacingAndGlyphs">Flowchart</text>
<text x="154.10" y="228.60" font-size="23.0" fill="#262626" textLength="60.42" lengthAdjust="spacingAndGlyphs">before</text>
<text x="225.75" y="228.60" font-size="23.0" fill="#262626" textLength="112.12" lengthAdjust="spacingAndGlyphs">decomposi-</text>
<text x="2.00" y="256.20" font-size="23.0" fill="#262626" textLength="44.13" lengthAdjust="spacingAndGlyphs">tion.</text>
<text x="347.32" y="228.60" font-size="23.0" fill="#262626" textLength="29.19" lengthAdjust="spacingAndGlyphs">(b)</text>
<text x="392.47" y="228.60" font-size="23.0" fill="#262626" textLength="58.15" lengthAdjust="spacingAndGlyphs">Offset</text>
<text x="466.23" y="228.60" font-size="23.0" fill="#262626" textLength="35.77" lengthAdjust="spacingAndGlyphs">and</text>
<text x="518.43" y="228.60" font-size="23.0" fill="#262626" textLength="83.51" lengthAdjust="spacingAndGlyphs">deadline</text>
<text x="616.35" y="228.60" font-size="23.0" fill="#262626" textLength="68.22" lengthAdjust="spacingAndGlyphs">assign-</text>
<text x="347.12" y="256.20" font-size="23.0" fill="#262626" textLength="48.29" lengthAdjust="spacingAndGlyphs">ment</text>
<text x="404.38" y="256.20" font-size="23.0" fill="#262626" textLength="35.25" lengthAdjust="spacingAndGlyphs">[10]</text>
<text x="449.61" y="256.20" font-size="23.0" fill="#262626" textLength="6.28" lengthAdjust="spacingAndGlyphs">(</text>
<text x="455.70" y="256.20" font-size="23.0" font-style="italic" fill="#262626" textLength="15.13" lengthAdjust="spacingAndGlyphs">T</text>
<text x="479.37" y="256.20" font-size="23.0" fill="#262626" textLength="18.41" lengthAdjust="spacingAndGlyphs">=</text>
<text x="505.07" y="256.20" font-size="23.0" fill="#262626" textLength="11.66" lengthAdjust="spacingAndGlyphs">8</text>
<text x="524.53" y="256.20" font-size="23.0" font-style="italic" fill="#262626" textLength="30.79" lengthAdjust="spacingAndGlyphs">ms</text>
<text x="555.65" y="256.20" font-size="23.0" fill="#262626" textLength="15.85" lengthAdjust="spacingAndGlyphs">).</text>
<text x="1.27" y="504.00" font-size="23.0" fill="#262626" textLength="25.76" lengthAdjust="spacingAndGlyphs">(c)</text>
<text x="43.66" y="504.00" font-size="23.0" fill="#262626" textLength="58.56" lengthAdjust="spacingAndGlyphs">Offset</text>
<text x="117.83" y="504.00" font-size="23.0" fill="#262626" textLength="35.67" lengthAdjust="spacingAndGlyphs">and</text>
<text x="171.43" y="504.00" font-size="23.0" fill="#262626" textLength="83.11" lengthAdjust="spacingAndGlyphs">deadline</text>
<text x="269.75" y="504.00" font-size="23.0" fill="#262626" textLength="68.12" lengthAdjust="spacingAndGlyphs">assign-</text>
<text x="1.62" y="531.20" font-size="23.0" fill="#262626" textLength="48.29" lengthAdjust="spacingAndGlyphs">ment</text>
<text x="60.79" y="531.20" font-size="23.0" fill="#262626" textLength="31.51" lengthAdjust="spacingAndGlyphs">[11]</text>
<text x="103.20" y="531.20" font-size="23.0" fill="#262626" textLength="6.39" lengthAdjust="spacingAndGlyphs">(</text>
<text x="110.24" y="531.20" font-size="23.0" font-style="italic" fill="#262626" textLength="15.62" lengthAdjust="spacingAndGlyphs">T</text>
<text x="133.90" y="531.20" font-size="23.0" fill="#262626" textLength="19.25" lengthAdjust="spacingAndGlyphs">=</text>
<text x="158.97" y="531.20" font-size="23.0" fill="#262626" textLength="22.12" lengthAdjust="spacingAndGlyphs">10</text>
<text x="189.29" y="531.20" font-size="23.0" font-style="italic" fill="#262626" textLength="32.48" lengthAdjust="spacingAndGlyphs">ms</text>
<text x="221.19" y="531.20" font-size="23.0" fill="#262626" textLength="15.13" lengthAdjust="spacingAndGlyphs">).</text>
<text x="346.70" y="504.00" font-size="23.0" fill="#262626" textLength="29.93" lengthAdjust="spacingAndGlyphs">(d)</text>
<text x="390.32" y="504.00" font-size="23.0" fill="#262626" textLength="79.70" lengthAdjust="spacingAndGlyphs">Number</text>
<text x="483.50" y="504.00" font-size="23.0" fill="#262626" textLength="18.76" lengthAdjust="spacingAndGlyphs">of</text>
<text x="514.44" y="504.00" font-size="23.0" fill="#262626" textLength="115.30" lengthAdjust="spacingAndGlyphs">schedulable</text>
<text x="643.00" y="504.00" font-size="23.0" fill="#262626" textLength="41.20" lengthAdjust="spacingAndGlyphs">task</text>
<text x="346.72" y="531.20" font-size="23.0" fill="#262626" textLength="37.21" lengthAdjust="spacingAndGlyphs">sets</text>
<text x="391.27" y="531.20" font-size="23.0" fill="#262626" textLength="23.23" lengthAdjust="spacingAndGlyphs">on</text>
<text x="422.43" y="531.20" font-size="23.0" fill="#262626" textLength="10.93" lengthAdjust="spacingAndGlyphs">a</text>
<text x="443.59" y="531.20" font-size="23.0" font-style="italic" fill="#262626" textLength="18.82" lengthAdjust="spacingAndGlyphs">m</text>
<text x="461.73" y="531.20" font-size="23.0" fill="#262626" textLength="50.30" lengthAdjust="spacingAndGlyphs">-core</text>
<text x="520.62" y="531.20" font-size="23.0" fill="#262626" textLength="99.12" lengthAdjust="spacingAndGlyphs">processor.</text>
<text x="38.63" y="40.90" font-size="16.5" fill="#333333" textLength="7.67" lengthAdjust="spacingAndGlyphs">0</text>
<text x="38.63" y="54.72" font-size="16.5" fill="#333333" textLength="7.67" lengthAdjust="spacingAndGlyphs">1</text>
<text x="38.63" y="68.54" font-size="16.5" fill="#333333" textLength="7.67" lengthAdjust="spacingAndGlyphs">2</text>
<text x="38.63" y="82.36" font-size="16.5" fill="#333333" textLength="7.67" lengthAdjust="spacingAndGlyphs">3</text>
<text x="38.63" y="96.18" font-size="16.5" fill="#333333" textLength="7.67" lengthAdjust="spacingAndGlyphs">4</text>
<text x="38.63" y="110.00" font-size="16.5" fill="#333333" textLength="7.67" lengthAdjust="spacingAndGlyphs">5</text>
<text x="38.63" y="123.82" font-size="16.5" fill="#333333" textLength="7.67" lengthAdjust="spacingAndGlyphs">6</text>
<text x="52.27" y="153.30" font-size="16.5" fill="#333333" textLength="7.67" lengthAdjust="spacingAndGlyphs">0</text>
<text x="95.76" y="153.30" font-size="16.5" fill="#333333" textLength="30.68" lengthAdjust="spacingAndGlyphs">2000</text>
<text x="150.76" y="153.30" font-size="16.5" fill="#333333" textLength="30.68" lengthAdjust="spacingAndGlyphs">4000</text>
<text x="205.76" y="153.30" font-size="16.5" fill="#333333" textLength="30.68" lengthAdjust="spacingAndGlyphs">6000</text>
<text x="260.76" y="153.30" font-size="16.5" fill="#333333" textLength="30.68" lengthAdjust="spacingAndGlyphs">8000</text>
<text x="384.93" y="40.90" font-size="16.5" fill="#333333" textLength="7.67" lengthAdjust="spacingAndGlyphs">0</text>
<text x="384.93" y="54.72" font-size="16.5" fill="#333333" textLength="7.67" lengthAdjust="spacingAndGlyphs">1</text>
<text x="384.93" y="68.54" font-size="16.5" fill="#333333" textLength="7.67" lengthAdjust="spacingAndGlyphs">2</text>
<text x="384.93" y="82.36" font-size="16.5" fill="#333333" textLength="7.67" lengthAdjust="spacingAndGlyphs">3</text>
<text x="384.93" y="96.18" font-size="16.5" fill="#333333" textLength="7.67" lengthAdjust="spacingAndGlyphs">4</text>
<text x="384.93" y="110.00" font-size="16.5" fill="#333333" textLength="7.67" lengthAdjust="spacingAndGlyphs">5</text>
<text x="384.93" y="123.82" font-size="16.5" fill="#333333" textLength="7.67" lengthAdjust="spacingAndGlyphs">6</text>
<text x="398.47" y="153.30" font-size="16.5" fill="#333333" textLength="7.67" lengthAdjust="spacingAndGlyphs">0</text>
<text x="449.74" y="153.30" font-size="16.5" fill="#333333" textLength="30.68" lengthAdjust="spacingAndGlyphs">2500</text>
<text x="512.51" y="153.30" font-size="16.5" fill="#333333" textLength="30.68" lengthAdjust="spacingAndGlyphs">5000</text>
<text x="575.28" y="153.30" font-size="16.5" fill="#333333" textLength="30.68" lengthAdjust="spacingAndGlyphs">7500</text>
<text x="18.73" y="320.70" font-size="18.6" fill="#333333" textLength="8.47" lengthAdjust="spacingAndGlyphs">0</text>
<text x="18.73" y="335.50" font-size="18.6" fill="#333333" textLength="8.47" lengthAdjust="spacingAndGlyphs">1</text>
<text x="18.73" y="350.30" font-size="18.6" fill="#333333" textLength="8.47" lengthAdjust="spacingAndGlyphs">2</text>
<text x="18.73" y="365.10" font-size="18.6" fill="#333333" textLength="8.47" lengthAdjust="spacingAndGlyphs">3</text>
<text x="18.73" y="379.90" font-size="18.6" fill="#333333" textLength="8.47" lengthAdjust="spacingAndGlyphs">4</text>
<text x="18.73" y="394.70" font-size="18.6" fill="#333333" textLength="8.47" lengthAdjust="spacingAndGlyphs">5</text>
<text x="18.73" y="409.50" font-size="18.6" fill="#333333" textLength="8.47" lengthAdjust="spacingAndGlyphs">6</text>
<text x="33.77" y="441.00" font-size="18.6" fill="#333333" textLength="8.47" lengthAdjust="spacingAndGlyphs">0</text>
<text x="77.66" y="441.00" font-size="18.6" fill="#333333" textLength="33.88" lengthAdjust="spacingAndGlyphs">2000</text>
<text x="134.26" y="441.00" font-size="18.6" fill="#333333" textLength="33.88" lengthAdjust="spacingAndGlyphs">4000</text>
<text x="190.86" y="441.00" font-size="18.6" fill="#333333" textLength="33.88" lengthAdjust="spacingAndGlyphs">6000</text>
<text x="247.46" y="441.00" font-size="18.6" fill="#333333" textLength="33.88" lengthAdjust="spacingAndGlyphs">8000</text>
</svg>
</body></html>
